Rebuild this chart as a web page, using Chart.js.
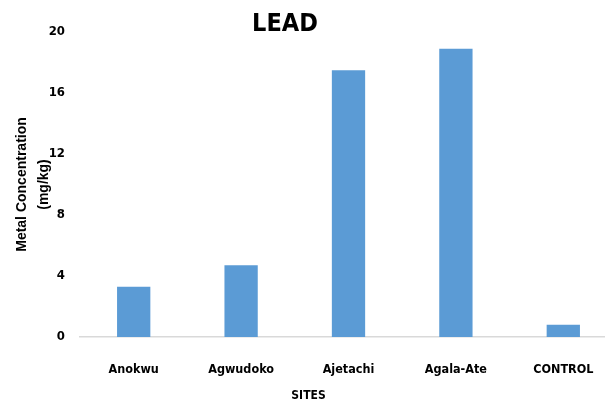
<!DOCTYPE html>
<html>
<head>
<meta charset="utf-8">
<script src="https://cdn.jsdelivr.net/npm/chart.js@4.4.0/dist/chart.umd.min.js"></script>
<style>
  html, body { margin: 0; padding: 0; background: #fff; overflow: hidden; }
  #wrap { position: relative; width: 620px; height: 405px; }
  #title { position: absolute; left: 185px; top: 8px; width: 200px; text-align: center;
    font: bold 25px 'Liberation Sans Narrow', 'DejaVu Sans Condensed', sans-serif; line-height: 29px; color: #000; }
</style>
</head>
<body>
<div id="wrap">
  <canvas id="c" width="620" height="405"></canvas>
  <div id="title">LEAD</div>
</div>
<script>
const categories = ['Anokwu', 'Agwudoko', 'Ajetachi', 'Agala-Ate', 'CONTROL'];
const leadValues = [3.3, 4.7, 17.5, 18.9, 0.8];
const yTicks = [0, 4, 8, 12, 16, 20];

const narrow = "'Liberation Sans Narrow', 'DejaVu Sans Condensed', sans-serif";

new Chart(document.getElementById('c'), {
  type: 'bar',
  data: {
    labels: categories,
    datasets: [{
      label: 'LEAD',
      data: leadValues,
      backgroundColor: '#5B9BD5',
      borderWidth: 0,
      barPercentage: 0.31,
      categoryPercentage: 1.0
    }]
  },
  options: {
    responsive: false,
    animation: false,
    devicePixelRatio: 1,
    layout: { padding: { top: 32, right: 3, left: 0, bottom: 0 } },
    plugins: {
      legend: { display: false },
      tooltip: { enabled: false },
      title: { display: false },
      subtitle: {
        display: true,
        text: 'SITES',
        position: 'bottom',
        color: '#000',
        font: { family: narrow, size: 12, weight: 'bold', lineHeight: 1.3 },
        padding: { top: 0, bottom: 1 }
      }
    },
    scales: {
      x: {
        afterFit: (scale) => { scale.height = 51.4; },
        grid: { display: false, drawTicks: false },
        border: { display: true, color: '#d9d9d9', width: 1.5 },
        ticks: {
          color: '#000',
          padding: 25,
          font: { family: narrow, size: 12.5, weight: 'bold', lineHeight: 1.2 },
          maxRotation: 0,
          autoSkip: false
        }
      },
      y: {
        min: 0,
        max: 20,
        afterBuildTicks: (scale) => { scale.ticks = yTicks.map(v => ({ value: v })); },
        afterFit: (scale) => { scale.width = 80; },
        grid: { display: false, drawTicks: false },
        border: { display: false },
        ticks: {
          color: '#000',
          padding: 15,
          font: { family: narrow, size: 13, weight: 'bold', lineHeight: 1.2 }
        },
        title: {
          display: true,
          text: ['Metal Concentration', '(mg/kg)'],
          color: '#000',
          font: { family: "'Liberation Sans', Arial, sans-serif", size: 14, weight: 'bold', lineHeight: 1.6 },
          padding: { top: 11, bottom: 0 }
        }
      }
    }
  }
});
</script>
</body>
</html>
